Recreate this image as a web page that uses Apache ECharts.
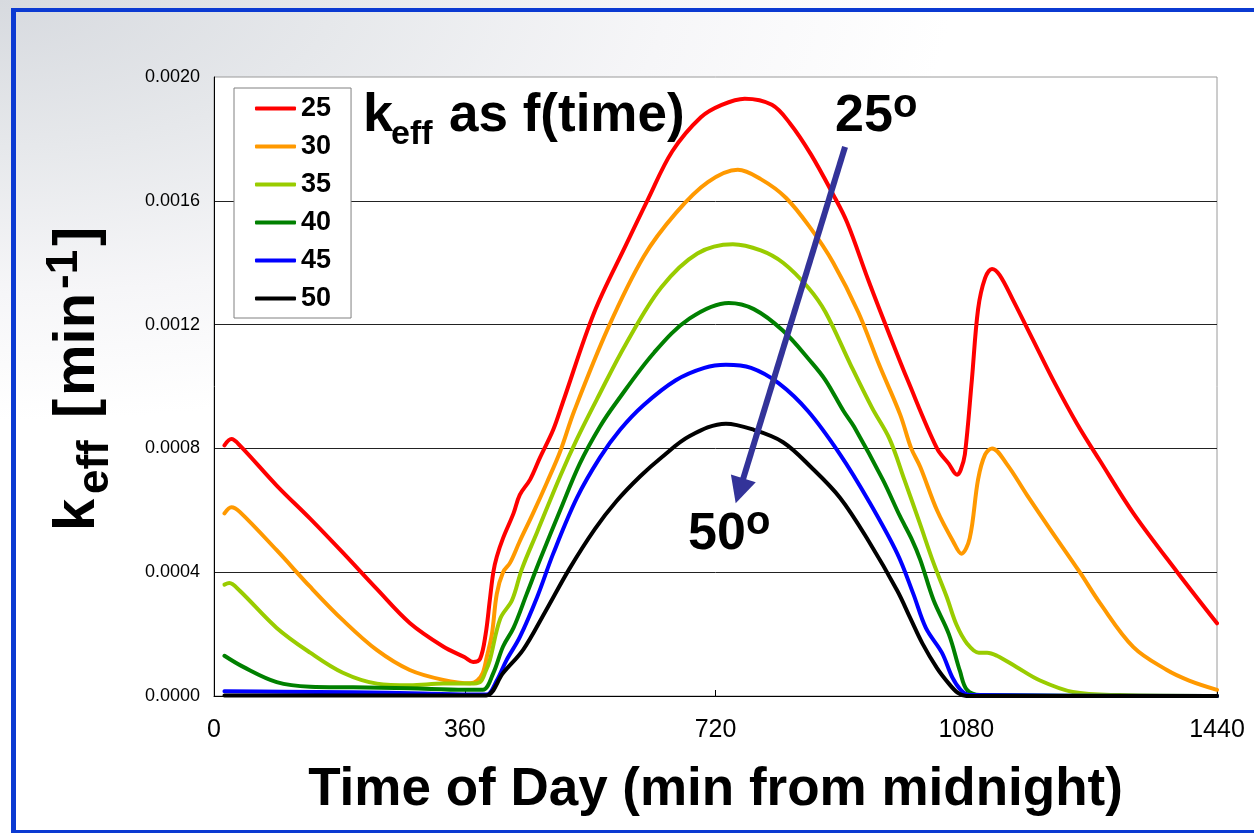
<!DOCTYPE html>
<html><head><meta charset="utf-8">
<script src="https://cdn.jsdelivr.net/npm/echarts@6/dist/echarts.min.js"></script>
<style>
html,body{margin:0;padding:0;width:1254px;height:833px;overflow:hidden;}
body{background:#ffffff radial-gradient(ellipse 950px 420px at 0px 0px,#d7dadf 0%,#e6e8eb 35%,#f6f6f8 70%,#ffffff 100%) no-repeat;}
#frame{position:absolute;left:11px;top:8px;width:1270px;height:825px;border-left:5px solid #0b3ad2;border-top:4px solid #0b3ad2;border-bottom:3px solid #0b3ad2;box-sizing:border-box;}
#chart{position:absolute;left:0;top:0;width:1254px;height:833px;}
</style></head>
<body><div id="frame"></div><div id="chart"></div>
<script>
// ---- data (time in min from midnight, k_eff in 1/min) ----
const seriesNames = ['25','30','35','40','45','50'];
const seriesColors = ['#ff0000','#ff9900','#99cc00','#008000','#0000ff','#000000'];

const t25 = [15,25,37,90,138,185,234,281,329,360,372,382,390,396,401,406,415,430,439,454,468,487,501,546,592,622,658,699,729,762,801,827,857,889,909,940,971,996,1038,1055,1067,1072,1078,1088,1097,1107,1117,1128,1147,1176,1205,1239,1272,1320,1383,1440];
const k25 = [0.00081,0.00083,0.00081,0.00068,0.000573,0.000463,0.000345,0.000236,0.00016,0.000125,0.00011,0.00012,0.0002,0.00031,0.0004,0.00045,0.00051,0.00059,0.00065,0.0007,0.00077,0.00086,0.00095,0.00124,0.00146,0.0016,0.00176,0.00187,0.00191,0.00193,0.00191,0.00185,0.00175,0.00162,0.00153,0.00134,0.00116,0.00102,0.0008,0.00075,0.000715,0.00073,0.00078,0.00102,0.00125,0.00135,0.00138,0.00136,0.00128,0.00115,0.00102,0.00088,0.00076,0.00059,0.0004,0.000235];

const t30 = [15,25,37,90,138,185,234,281,329,368,378,386,392,399,406,415,425,439,458,478,497,517,566,617,663,709,752,785,821,857,889,925,955,985,1001,1014,1038,1061,1073,1085,1097,1107,1117,1138,1167,1200,1243,1272,1320,1368,1400,1440];
const k30 = [0.00059,0.00061,0.000595,0.000471,0.000353,0.000245,0.000148,0.000084,0.000052,0.000041,0.00005,0.000075,0.00013,0.0002,0.00033,0.0004,0.00043,0.0005,0.00059,0.00069,0.00079,0.00092,0.00119,0.00142,0.00156,0.00166,0.0017,0.00167,0.00161,0.00151,0.0014,0.00124,0.00107,0.00091,0.0008,0.00074,0.0006,0.0005,0.00046,0.00051,0.0007,0.00078,0.0008,0.00075,0.00065,0.00054,0.0004,0.0003,0.000158,0.000084,0.00005,0.00002];

const t35 = [15,22,37,90,138,185,234,281,329,368,382,390,396,411,428,442,464,497,521,550,592,642,694,745,785,817,853,878,914,945,970,991,1013,1033,1052,1066,1081,1098,1110,1124,1152,1186,1233,1300,1440];
const k35 = [0.00036,0.000365,0.00034,0.00022,0.00014,0.000075,0.00004,0.000035,0.00004,0.00004,0.000045,0.00008,0.000116,0.00025,0.00031,0.00041,0.00053,0.00071,0.00083,0.00096,0.00114,0.00132,0.00143,0.00146,0.00144,0.0014,0.00132,0.00124,0.00107,0.00093,0.00083,0.0007,0.00056,0.00043,0.00032,0.00023,0.00017,0.00014,0.00014,0.00013,0.000094,0.00005,0.000013,0.000003,0];

const t40 = [15,42,90,138,200,280,360,386,401,415,430,449,468,497,525,554,578,632,683,739,775,817,857,878,904,919,960,985,1001,1014,1033,1055,1071,1081,1100,1440];
const k40 = [0.00013,0.000094,0.000045,0.00003,0.000028,0.000025,0.00002,0.00002,0.000074,0.00016,0.00022,0.00033,0.00044,0.0006,0.00075,0.00087,0.00095,0.00111,0.00122,0.00127,0.00125,0.00118,0.00108,0.00102,0.00092,0.00087,0.0007,0.00058,0.00051,0.00044,0.00031,0.0002,0.00008,0.00002,0.000003,0];

const t45 = [15,100,200,300,380,392,406,420,439,464,487,521,554,583,617,663,704,735,771,811,853,899,940,981,1004,1022,1045,1060,1072,1085,1440];
const k45 = [0.000015,0.000014,0.000012,0.000008,0.000005,0.000005,0.00005,0.000116,0.00019,0.00032,0.00046,0.00064,0.00077,0.00086,0.00094,0.00102,0.00106,0.00107,0.00106,0.00101,0.00092,0.00078,0.00063,0.00046,0.00033,0.00022,0.00014,0.00006,0.00002,0.000003,0];

const t50 = [15,200,360,391,415,444,475,510,547,578,612,642,683,735,775,817,857,899,940,981,1000,1017,1038,1055,1068,1080,1440];
const k50 = [0.000002,0.000002,0.000002,0.000002,0.000074,0.00015,0.00027,0.00041,0.00054,0.00063,0.00071,0.00077,0.00084,0.00088,0.00086,0.00082,0.00074,0.00064,0.0005,0.00034,0.00025,0.00017,0.00009,0.00004,0.00001,0,0];

const xTicks = [0, 360, 720, 1080, 1440];
const yTickLabels = ['0.0000','0.0004','0.0008','0.0012','0.0016','0.0020'];

// annotation arrow in data coordinates (from 25° to 50°)
const arrowFrom = [906, 0.001774];
const arrowTo = [749, 0.000623];

const FONT = '"Liberation Sans", Arial, Helvetica, sans-serif';
const times = [t25, t30, t35, t40, t45, t50];
const vals = [k25, k30, k35, k40, k45, k50];

const chart = echarts.init(document.getElementById('chart'), null, {renderer: 'canvas'});

const series = seriesNames.map((n, i) => ({
  name: n,
  type: 'line',
  data: times[i].map((t, j) => [t, vals[i][j]]),
  showSymbol: false,
  symbol: 'none',
  smooth: 0.35,
  clip: true,
  lineStyle: {width: 4, color: seriesColors[i], cap: 'round', join: 'round'},
  itemStyle: {color: seriesColors[i]},
  emphasis: {disabled: true},
  z: 3 + i
}));

chart.setOption({
  animation: false,
  backgroundColor: 'transparent',
  textStyle: {fontFamily: FONT},
  grid: {left: 214, right: 37, top: 77, bottom: 137, show: true, borderColor: '#9a9a9a', borderWidth: 1, backgroundColor: '#ffffff', containLabel: false},
  legend: {
    orient: 'vertical', left: 234, top: 88,
    padding: [7, 20, 6, 21], itemGap: 11, itemWidth: 41, itemHeight: 4,
    icon: 'roundRect',
    backgroundColor: '#ffffff', borderColor: '#808080', borderWidth: 1, borderRadius: 0,
    textStyle: {fontSize: 27, fontWeight: 'bold', color: '#000', fontFamily: FONT},
    data: seriesNames,
    selectedMode: false
  },
  xAxis: {
    type: 'value', min: xTicks[0], max: xTicks[xTicks.length - 1], interval: xTicks[1] - xTicks[0],
    axisLine: {show: true, onZero: false, lineStyle: {color: '#000', width: 1}},
    axisTick: {show: true, inside: true, length: 6, lineStyle: {color: '#000'}},
    axisLabel: {fontSize: 25, color: '#000', margin: 22, fontFamily: FONT, formatter: (v) => String(v)},
    splitLine: {show: false},
    name: 'Time of Day (min from midnight)', nameLocation: 'middle', nameGap: 68,
    nameTextStyle: {fontSize: 53, fontWeight: 'bold', color: '#000', fontFamily: FONT}
  },
  yAxis: {
    type: 'value', min: 0, max: 0.002, interval: 0.0004,
    axisLine: {show: true, lineStyle: {color: '#000', width: 1}},
    axisTick: {show: false},
    axisLabel: {fontSize: 18, color: '#000', margin: 14, fontFamily: FONT,
      formatter: (v) => yTickLabels[Math.round(v / 0.0004)]},
    splitLine: {show: true, showMaxLine: false, lineStyle: {color: '#222', width: 1}}
  },
  series: series
});

// arrow annotation computed from data coordinates
const p0 = chart.convertToPixel({gridIndex: 0}, arrowFrom);
const p1 = chart.convertToPixel({gridIndex: 0}, arrowTo);
const dx = p1[0] - p0[0], dy = p1[1] - p0[1], L = Math.hypot(dx, dy), ux = dx / L, uy = dy / L;
const headLen = 26, headW = 13;
const bx = p1[0] - ux * headLen, by = p1[1] - uy * headLen;

function txt(text, x, y, size, extra) {
  return Object.assign({
    type: 'text', x: x, y: y, z: 100,
    style: {text: text, fill: '#000', fontSize: size, fontWeight: 'bold', fontFamily: FONT,
      textAlign: 'left', align: 'left', textVerticalAlign: 'middle', verticalAlign: 'middle'}
  }, extra || {});
}

chart.setOption({
  graphic: [
    {type: 'line', z: 90, shape: {x1: p0[0], y1: p0[1], x2: bx + ux * 2, y2: by + uy * 2},
      style: {stroke: '#333399', lineWidth: 6, lineCap: 'butt'}},
    {type: 'polygon', z: 91, shape: {points: [[p1[0], p1[1]], [bx - uy * headW, by + ux * headW], [bx + uy * headW, by - ux * headW]]},
      style: {fill: '#333399'}},
    // plot title
    txt('k', 363, 116, 54),
    txt('eff', 391, 135, 34),
    txt('as f(time)', 449, 116, 53),
    // temperature labels
    txt('25', 835, 117, 52),
    txt('o', 893, 106, 40),
    txt('50', 688, 535, 52),
    txt('o', 746, 523, 40),
    // y-axis title (rotated)
    {type: 'group', x: 98, y: 531, rotation: Math.PI / 2, z: 100, children: [
      txt('k', 0, -20, 58),
      txt('eff', 37, -2, 44),
      txt('[', 113, -20, 58),
      txt('min', 135, -20, 58),
      txt('-1', 242, -33, 44),
      txt(']', 285, -20, 58)
    ]}
  ]
});
</script></body></html>
